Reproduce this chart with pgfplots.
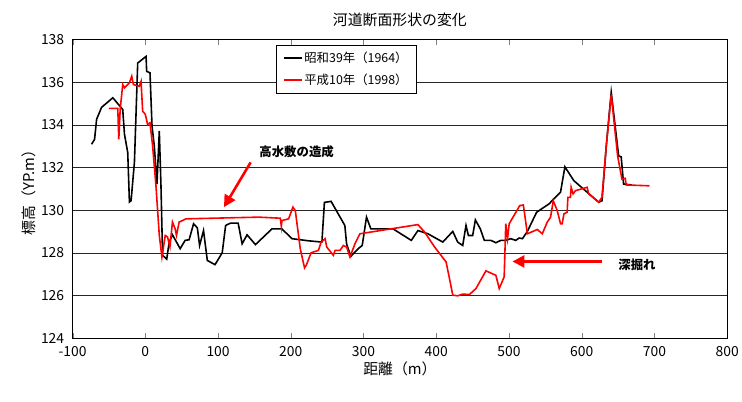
\documentclass[border=0pt]{standalone}
\usepackage{fontspec}
\setmainfont{Noto Sans CJK JP}
\usepackage{pgfplots}
\pgfplotsset{compat=1.18}
\usetikzlibrary{arrows.meta,calc}
\begin{document}
\begin{tikzpicture}
\begin{axis}[
  scale only axis, width=658bp, height=300bp,
  xmin=-100, xmax=800, ymin=124, ymax=138,
  xtick={-100,0,...,800}, ytick={124,126,...,138},
  /pgf/number format/assume math mode=true,
  /pgf/number format/set thousands separator={},
  ticklabel style={font=\fontsize{14}{16}\selectfont},
  xticklabel style={yshift=-5bp},
  yticklabel style={xshift=-5bp},
  tick align=inside, major tick length=5bp,
  ytick style={draw=none},
  ymajorgrids, grid style={black!85, line width=0.8bp},
  axis line style={black, line width=0.9bp},
  xlabel={距離（m）}, ylabel={標高（YP.m）},
  label style={font=\fontsize{15}{17}\selectfont},
  xlabel style={yshift=2bp},
  ylabel style={yshift=-2bp},
  title={河道断面形状の変化},
  title style={font=\fontsize{15}{17}\selectfont, yshift=4bp},
  legend style={at={(rel axis cs:0.31,0.983)}, anchor=north west, draw=black, fill=white,
    font=\fontsize{12.5}{14}\selectfont, row sep=6bp, inner xsep=7bp, inner ysep=5bp, line width=0.8bp},
  legend cell align=left,
  legend image code/.code={\draw[#1, line width=1.6bp] (0bp,0bp) -- (18bp,0bp);},
  clip=false,
]
\addplot[black, line width=1.6bp] coordinates {
(-73.9,133.1) (-69.8,133.33) (-67.0,134.27) (-60.2,134.83) (-44.7,135.28) (-31.1,134.73)
(-28.7,133.57) (-24.2,132.71) (-21.9,130.39) (-19.6,130.45) (-15.0,132.26) (-10.5,136.91)
(1.0,137.22) (1.8,136.52) (6.4,136.45) (9.2,133.95) (12.3,133.02) (16.0,131.23) (19.2,133.72)
(21.5,131.15) (23.7,127.89) (29.4,127.71) (32.8,128.51) (37.3,128.85) (47.9,128.2) (54.7,128.59)
(60.2,128.62) (66.3,129.37) (71.5,129.18) (74.6,128.35) (80.0,129.05) (85.2,127.65) (95.8,127.45)
(105.7,128.01) (110.4,129.29) (117.2,129.40) (127.6,129.40) (133.1,128.43) (139.9,128.85)
(151.4,128.39) (174.1,129.13) (187.8,129.13) (201.5,128.67) (224.3,128.57) (242.8,128.51)
(246.2,130.37) (255.4,130.42) (274.3,129.29) (276.7,128.43) (282.5,127.84) (292.7,128.2)
(298.2,128.35) (304.1,129.68) (310.1,129.13) (340.6,129.13) (365.7,128.59) (374.8,129.05)
(388.5,128.9) (409.0,128.51) (422.7,129.01) (429.5,128.51) (436.4,128.35) (440.9,129.29)
(444.2,128.82) (450.1,128.82) (453.8,129.55) (460.6,129.13) (466.1,128.59) (475.1,128.59)
(482.0,128.48) (488.8,128.59) (495.6,128.59) (502.5,128.67) (509.3,128.59) (514.0,128.70)
(518.5,128.67) (525.3,129.01) (538.0,129.91) (555.0,130.30) (570.9,130.85) (576.9,132.04)
(589.2,131.39) (623.4,130.38) (627.9,130.45) (633.8,133.02) (640.6,135.54) (650.8,132.55)
(654.3,132.51) (657.6,131.23) (669.0,131.19)
};
\addlegendentry{昭和39年（1964）}
\addplot[red, line width=1.6bp] coordinates {
(-50.2,134.78) (-37.9,134.78) (-36.5,133.33) (-34.6,134.73) (-31.1,135.90) (-28.7,135.75)
(-21.9,135.98) (-18.7,136.29) (-16.4,135.90) (-8.2,135.82) (-5.9,136.05) (-3.7,134.65)
(0,134.50) (3.1,134.03) (6.4,134.11) (10.0,133.02) (14.6,131.15) (19.2,128.82) (22.8,127.81)
(27.4,128.82) (30.5,128.75) (33.8,128.28) (37.3,129.45) (41.0,129.13) (42.8,128.82)
(46.5,129.45) (51.0,129.52) (55.7,129.60) (156.0,129.68) (185.6,129.63) (187.0,129.24)
(187.8,129.52) (197.0,129.60) (202.9,130.15) (206.2,129.99) (213.0,128.20) (218.9,127.30)
(221.2,127.42) (228.0,128.01) (238.0,128.12) (241.7,128.51) (247.2,128.67) (249.4,128.28)
(258.5,127.89) (260.9,128.12) (267.7,128.12) (272.2,128.35) (276.7,128.28) (281.4,127.81)
(288.2,128.43) (295.1,128.90) (374.8,129.33) (384.0,128.98) (397.7,128.28) (413.5,127.58)
(418.2,126.80) (422.7,126.02) (429.5,125.99) (436.4,126.07) (445.6,126.05) (454.6,126.33)
(468.3,127.16) (482.0,126.95) (486.6,126.33) (493.4,126.88) (495.6,129.37) (498.0,128.67)
(500.3,129.37) (514.8,130.22) (519.8,130.25) (525.3,128.90) (539.0,129.10) (545.8,128.90)
(552.7,129.45) (557.2,129.68) (560.9,130.45) (566.3,129.99) (570.9,129.37) (573.2,129.37)
(575.5,129.83) (580.0,129.91) (581.0,130.61) (584.5,130.61) (585.5,131.08) (588.2,130.77)
(591.4,130.92) (607.4,131.08) (609.7,130.77) (623.4,130.38) (627.9,130.61) (633.8,133.02)
(640.6,135.43) (649.4,132.55) (655.3,131.47) (659.8,131.50) (661.2,131.19) (693.2,131.15)
};
\addlegendentry{平成10年（1998）}
\draw[red, line width=2.6bp, -{Triangle[length=12bp,width=12bp]}] (axis cs:144.8,132.25) -- (axis cs:108.1,130.15);
\node[font=\fontsize{12.5}{14}\selectfont\bfseries] at (axis cs:208,132.73) {高水敷の造成};
\draw[red, line width=2.6bp, -{Triangle[length=12bp,width=12bp]}] (axis cs:628,127.6) -- (axis cs:504.8,127.6);
\node[font=\fontsize{12.5}{14}\selectfont\bfseries] at (axis cs:676,127.45) {深掘れ};
\end{axis}
\path ($(current axis.south west)+(-73bp,-64bp)$) rectangle ($(current axis.north east)+(11bp,40bp)$);
\end{tikzpicture}
\end{document}
